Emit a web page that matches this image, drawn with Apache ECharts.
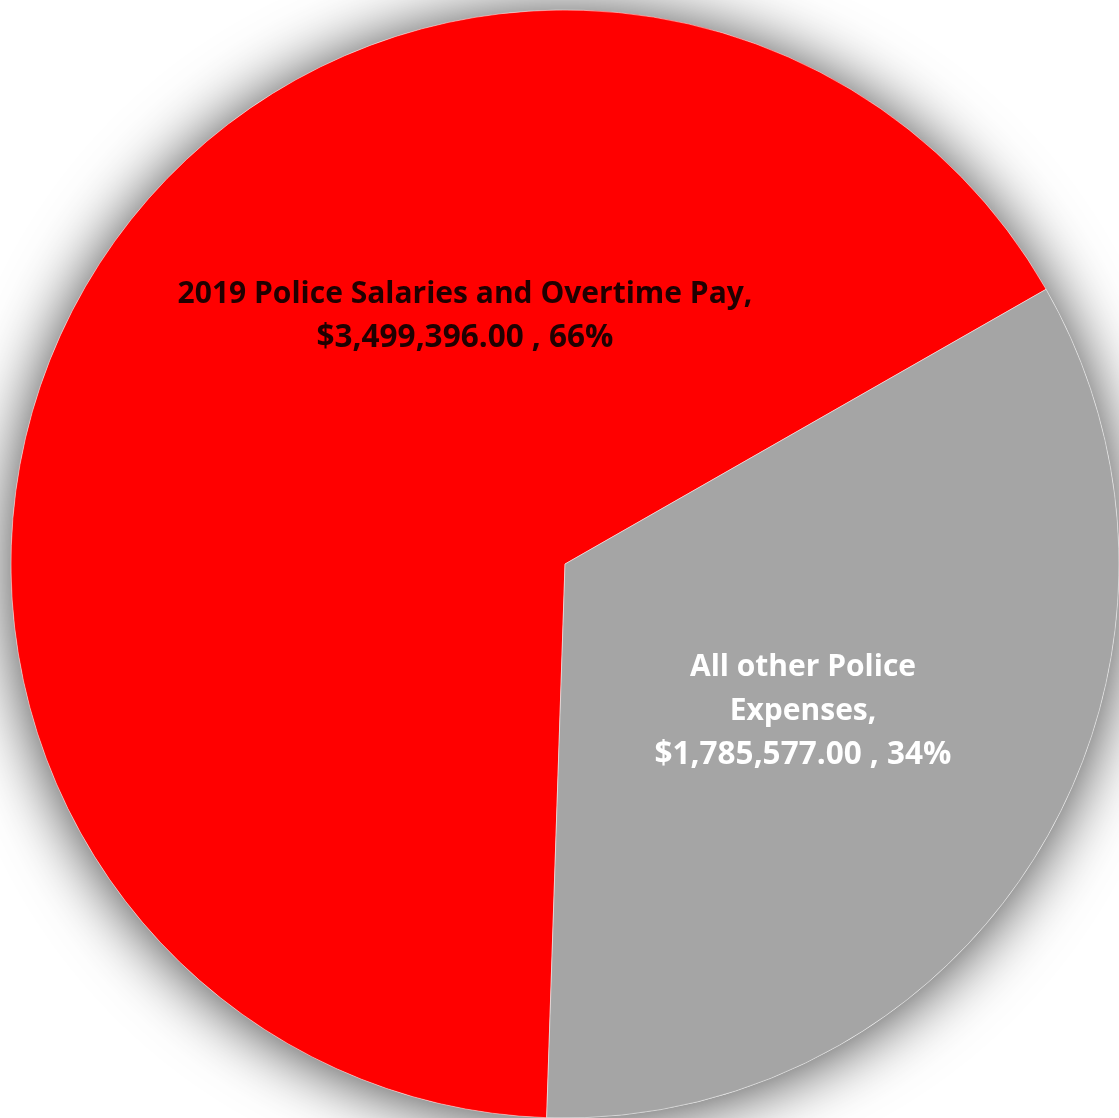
<!DOCTYPE html>
<html>
<head>
<meta charset="utf-8">
<title>Police Expenses 2019</title>
<script src="https://cdn.jsdelivr.net/npm/echarts@6/dist/echarts.min.js"></script>
<style>
  html, body { margin: 0; padding: 0; background: #ffffff; }
  #chart { width: 1119px; height: 1118px; }
</style>
</head>
<body>
<div id="chart"></div>
<script>
// Slice names, amounts and shares shown on the pie
const categories = [
  '2019 Police Salaries and Overtime Pay',
  'All other Police Expenses'
];
const amounts = [3499396.00, 1785577.00];
const sliceColors = ['#ff0000', '#a5a5a5'];
const labelColors = ['#200000', '#ffffff'];
// Line breaks used in each slice label
const labelLines = [
  ['2019 Police Salaries and Overtime Pay,'],
  ['All other Police', 'Expenses,']
];

const total = amounts.reduce((a, b) => a + b, 0);

function money(v) {
  return '$' + v.toLocaleString('en-US', { minimumFractionDigits: 2, maximumFractionDigits: 2 });
}

const chart = echarts.init(document.getElementById('chart'), null, { renderer: 'canvas' });

const CENTER = [565, 564];
const RADIUS = 554;
// label anchor points (chart pixels) for each slice
const labelAnchors = [[465, 316], [803, 711]];

const FONT = '"Open Sans", "Liberation Sans", sans-serif';

chart.setOption({
  backgroundColor: '#ffffff',
  animation: false,
  series: [
    {
      // soft drop shadow beneath the pie
      type: 'pie',
      silent: true,
      z: 1,
      center: CENTER,
      radius: RADIUS,
      label: { show: false },
      labelLine: { show: false },
      itemStyle: {
        color: '#ffffff',
        shadowBlur: 65,
        shadowOffsetY: 3,
        shadowColor: 'rgba(0,0,0,0.75)'
      },
      data: [{ value: total, name: 'shadow' }]
    },
    {
      type: 'pie',
      z: 2,
      center: CENTER,
      radius: RADIUS,
      startAngle: 268.1,
      clockwise: true,
      itemStyle: {
        borderColor: 'rgba(255,255,255,0.45)',
        borderWidth: 1
      },
      labelLine: { show: false },
      label: {
        show: true,
        position: 'inside',
        fontFamily: FONT,
        fontWeight: 'bold',
        fontSize: 30,
        lineHeight: 44,
        align: 'center',
        rich: {
          t: { fontFamily: FONT, fontWeight: 'bold', fontSize: 30, lineHeight: 44 },
          m: { fontFamily: FONT, fontWeight: 'bold', fontSize: 31.5, lineHeight: 44 }
        },
        formatter: function (p) {
          const i = p.dataIndex;
          const pct = Math.round(amounts[i] / total * 100);
          const lines = labelLines[i].map(s => '{t|' + s + '}');
          lines.push('{m|' + money(amounts[i]) + ' , ' + pct + '%}');
          return lines.join('\n');
        }
      },
      labelLayout: function (p) {
        const a = labelAnchors[p.dataIndex];
        return { x: a[0], y: a[1], align: 'center', verticalAlign: 'middle' };
      },
      data: categories.map((name, i) => ({
        name: name,
        value: amounts[i],
        itemStyle: { color: sliceColors[i] },
        label: { color: labelColors[i] }
      }))
    }
  ]
});
</script>
</body>
</html>
